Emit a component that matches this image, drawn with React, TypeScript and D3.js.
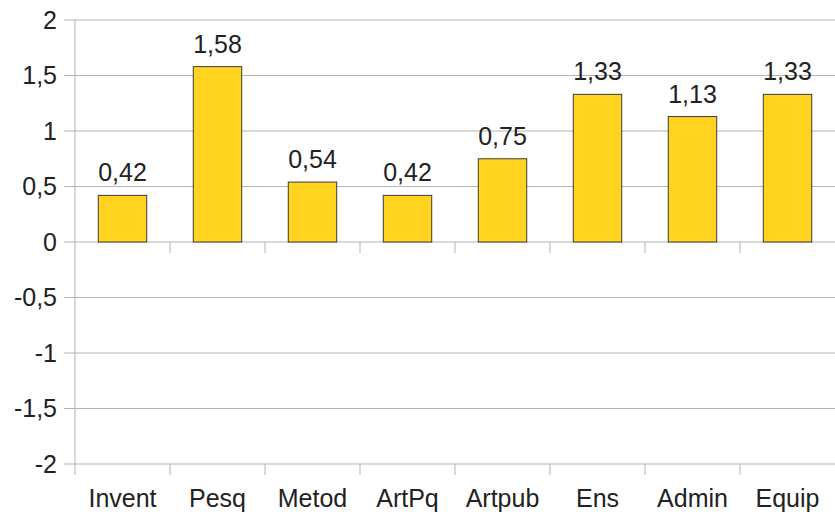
import React from 'react';
import * as d3 from 'd3';

const categories = ['Invent', 'Pesq', 'Metod', 'ArtPq', 'Artpub', 'Ens', 'Admin', 'Equip'];
const values = [0.42, 1.58, 0.54, 0.42, 0.75, 1.33, 1.13, 1.33];
const yTicks = [-2, -1.5, -1, -0.5, 0, 0.5, 1, 1.5, 2];

const width = 835;
const height = 520;
const margin = { top: 20, right: 0, bottom: 56, left: 75 };

const fmt = (v: number) => String(v).replace('.', ',');

export default function App() {
  const innerW = width - margin.left - margin.right;
  const innerH = height - margin.top - margin.bottom;

  const x = d3.scaleBand<string>().domain(categories).range([0, innerW]).paddingInner(0.49).paddingOuter(0.245);
  const band = d3.scaleBand<string>().domain(categories).range([0, innerW]).padding(0);
  const y = d3.scaleLinear().domain([-2, 2]).range([innerH, 0]);

  const font = "'Liberation Sans', Arial, sans-serif";
  const grid = '#b3b3b3';
  const fs = 25;

  return (
    <svg width={width} height={height} style={{ position: 'absolute', left: 0, top: 0, fontFamily: font }}>
      <g transform={`translate(${margin.left},${margin.top})`}>
        {yTicks.map(t => (
          <g key={t}>
            <line x1={-11} x2={innerW} y1={y(t)} y2={y(t)} stroke={grid} strokeWidth={1} />
            <text x={-18} y={y(t)} dy="0.35em" textAnchor="end" fontSize={fs} fill="#222">{fmt(t)}</text>
          </g>
        ))}
        <line x1={0} x2={0} y1={0} y2={innerH + 11} stroke={grid} strokeWidth={1} />
        {categories.map((c, i) => (
          <g key={c}>
            {i > 0 && <line x1={band(c)!} x2={band(c)!} y1={y(0)} y2={y(0) + 11} stroke={grid} />}
            {i > 0 && <line x1={band(c)!} x2={band(c)!} y1={innerH} y2={innerH + 11} stroke={grid} />}
            <text x={band(c)! + band.bandwidth() / 2} y={innerH + 43} textAnchor="middle" fontSize={fs} fill="#222">{c}</text>
          </g>
        ))}
        {categories.map((c, i) => (
          <g key={c}>
            <rect
              x={x(c)!}
              y={y(Math.max(0, values[i]))}
              width={x.bandwidth()}
              height={Math.abs(y(values[i]) - y(0))}
              fill="#ffd320"
              stroke="#3a3a3a"
              strokeWidth={1}
            />
            <text x={x(c)! + x.bandwidth() / 2} y={y(values[i]) - 14} textAnchor="middle" fontSize={fs} fill="#222">{fmt(values[i])}</text>
          </g>
        ))}
      </g>
    </svg>
  );
}
